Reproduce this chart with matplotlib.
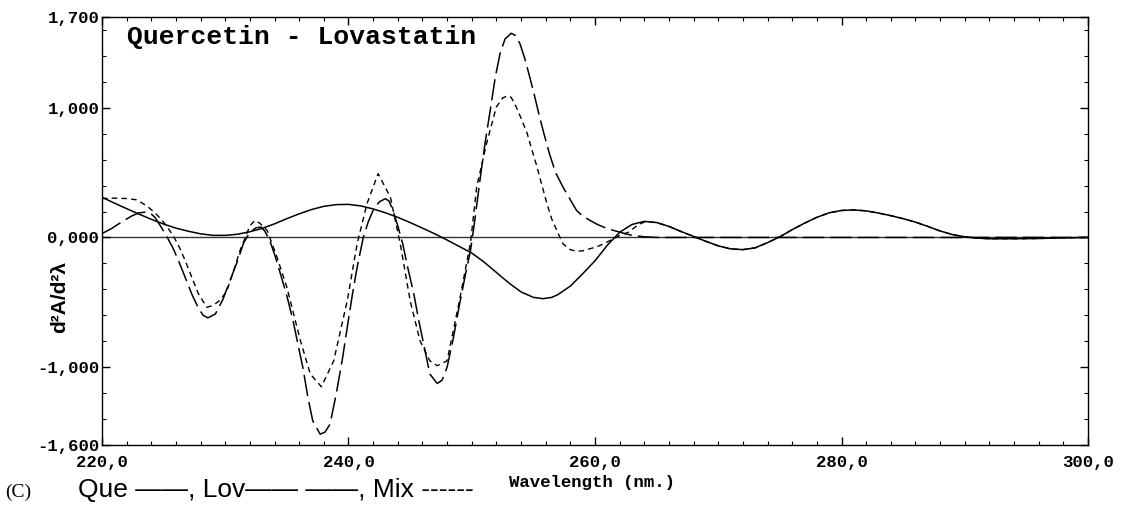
import matplotlib
matplotlib.use('Agg')
import matplotlib.pyplot as plt
from matplotlib.ticker import FixedLocator, MultipleLocator
import numpy as np

# Que (solid)
que_wl = [220, 221, 222, 223, 224, 225, 226, 227, 228, 229, 230, 231, 232, 233, 234,
          235, 236, 237, 238, 239, 240, 241, 242, 243, 244, 245, 246, 247, 248, 249,
          250, 251, 252, 253, 254, 255, 255.8, 256.5, 257, 258, 259, 260, 261, 262,
          263, 264, 265, 266, 267, 268, 269, 270, 271, 272, 273, 274, 275, 276, 277,
          278, 279, 280, 281, 282, 283, 284, 285, 286, 287, 288, 289, 290, 291, 292,
          294, 296, 298, 300]
que_val = [310, 265, 222, 180, 140, 103, 72, 48, 28, 16, 16, 25, 44, 70, 105,
           145, 182, 215, 240, 253, 255, 243, 220, 190, 155, 115, 72, 28, -20, -70,
           -120, -190, -270, -350, -420, -462, -472, -462, -440, -375, -280, -180, -60, 40,
           100, 124, 115, 85, 45, 8, -30, -65, -88, -94, -80, -40, 5, 60, 110,
           155, 190, 208, 212, 205, 188, 168, 145, 118, 85, 50, 22, 5, -5, -10,
           -10, -8, -3, 0]

# Lov (long dash)
lov_wl = [220, 220.8, 221.6, 222.4, 223.0, 223.5, 224.0, 224.3, 224.8, 225.3, 225.8,
          226.3, 226.8, 227.3, 227.8, 228.2, 228.6, 229.2, 229.8, 230.4, 231.0, 231.5,
          232.0, 232.5, 232.9, 233.2, 233.6, 234.0, 234.4, 235.0, 235.5, 236.0, 236.3,
          236.7, 237.1, 237.7, 238.1, 238.5, 239.0, 239.5, 239.9, 240.3, 240.7, 241.2,
          241.6, 242.0, 242.5, 243.0, 243.3, 243.6, 244.0, 244.4, 244.8, 245.3, 245.7,
          246.1, 246.6, 247.2, 247.6, 248.0, 248.5, 249.0, 249.5, 249.9, 250.2, 250.7,
          251.1, 251.5, 251.9, 252.3, 252.7, 253.2, 253.5, 253.9, 254.3, 254.7, 255.1,
          255.5, 255.9, 256.3, 256.8, 257.4, 258.0, 258.5, 259.0, 259.6, 260.2, 260.7,
          261.3, 262.0, 262.6, 263.1, 264, 265, 270, 280, 290, 300]
lov_val = [30, 70, 120, 165, 190, 195, 180, 155, 80, 0, -90,
           -200, -320, -440, -540, -600, -620, -590, -480, -330, -180, -40,
           40, 75, 80, 50, -20, -130, -255, -450, -641, -870, -1004,
           -1230, -1414, -1517, -1500, -1440, -1208, -940, -693, -450, -230, 0,
           120, 209, 275, 299, 280, 209, 90, -49, -230, -435, -640,
           -822, -1053, -1126, -1100, -1000, -780, -520, -280, -100, 100, 466,
           740, 981, 1230, 1420, 1530, 1574, 1560, 1497, 1380, 1239, 1090,
           930, 785, 647, 500, 389, 290, 209, 165, 131, 100, 80,
           60, 41, 25, 15, 5, 0, 0, 0, 0, 0]

# Mix (short dash)
mix_wl = [220, 221, 222, 222.8, 223.3, 223.8, 224.3, 224.8, 225.3, 225.8, 226.3, 226.8,
          227.3, 227.8, 228.5, 229.0, 229.5, 230.1, 230.7, 231.2, 231.5, 232.0, 232.4,
          232.8, 233.4, 234.2, 235.0, 236.1, 236.9, 237.8, 238.8, 239.9, 240.7, 241.5,
          242.4, 243.4, 244.2, 245.0, 245.8, 246.6, 247.2, 248.0, 249.0, 249.9, 250.4,
          251.2, 252.0, 252.5, 252.9, 253.2, 253.6, 254.0, 254.5, 254.9, 255.3, 255.7,
          256.1, 256.5, 256.9, 257.4, 258.0, 258.5, 259.0, 259.6, 260.2, 260.7, 261.3,
          262.0, 262.7, 263.4, 264, 265, 266, 267, 268, 269, 270, 271, 272, 273, 274,
          275, 276, 277, 278, 279, 280, 281, 282, 283, 284, 285, 286, 287, 288, 289,
          290, 291, 292, 294, 296, 298, 300]
mix_val = [300, 303, 300, 290, 263, 230, 190, 140, 80, 10, -80, -190,
           -310, -430, -538, -525, -490, -420, -250, -100, -30, 90, 131,
           110, 54, -152, -384, -796, -1053, -1151, -951, -487, -49, 260,
           492, 311, -49, -487, -796, -951, -989, -951, -487, -40, 389,
           724, 1007, 1075, 1092, 1080, 1007, 920, 801, 670, 543, 400,
           260, 140, 54, -49, -95, -106, -103, -87, -70, -49, -20,
           15, 40, 90, 120, 115, 85, 45, 8, -30, -65, -88, -94, -80, -40,
           5, 60, 110, 155, 190, 208, 212, 205, 188, 168, 145, 118, 85, 50, 22,
           5, -5, -10, -10, -8, -3, 0]

yticks = [-1600, -1000, 0, 1000, 1700]
ytick_labels = ['-1,600', '-1,000', '0,000', '1,000', '1,700']
xticks = [220, 240, 260, 280, 300]
xtick_labels = ['220,0', '240,0', '260,0', '280,0', '300,0']

mono = 'Liberation Mono'

fig = plt.figure(figsize=(11.27, 5.12), dpi=100)
ax = fig.add_axes([0.0905, 0.1309, 0.8749, 0.836])

ax.axhline(0, color='#333333', lw=1.0, zorder=1)
ax.plot(que_wl, que_val, color='black', lw=1.1, solid_capstyle='butt')
ax.plot(lov_wl, lov_val, color='black', lw=1.1, dashes=(14, 4))
ax.plot(mix_wl, mix_val, color='black', lw=1.0, dashes=(4, 3))

ax.set_xlim(220, 300)
ax.set_ylim(-1600, 1700)
ax.xaxis.set_major_locator(FixedLocator(xticks))
ax.xaxis.set_minor_locator(MultipleLocator(2))
ax.yaxis.set_major_locator(FixedLocator(yticks))
ax.yaxis.set_minor_locator(FixedLocator(np.arange(-1600, 1701, 200)))
ax.set_xticklabels(xtick_labels, fontfamily=mono, fontweight='bold', fontsize=12.5)
ax.set_yticklabels(ytick_labels, fontfamily=mono, fontweight='bold', fontsize=12.5)
ax.tick_params(which='both', direction='in', top=True, right=True, color='black')
ax.tick_params(which='major', length=6, width=1)
ax.tick_params(which='minor', length=3, width=0.8)
ax.tick_params(axis='x', which='major', pad=7)
ax.tick_params(axis='y', which='major', pad=2)
for s in ax.spines.values():
    s.set_linewidth(1.0)
    s.set_color('black')

ax.text(0.025, 0.953, 'Quercetin - Lovastatin', transform=ax.transAxes,
        fontfamily=mono, fontweight='bold', fontsize=19, va='center', ha='left')

fig.text(592 / 1127, 1 - 482 / 512, 'Wavelength (nm.)', fontfamily=mono,
         fontweight='bold', fontsize=12.5, ha='center', va='center')
fig.text(60 / 1127, 1 - 297 / 512, 'd\u00b2A/d\u00b2\u03bb', rotation=90,
         fontfamily='Liberation Sans', fontweight='bold', fontsize=15,
         ha='center', va='center')

fig.text(5 / 1127, 1 - 492 / 512, '(C)', fontfamily='Liberation Serif',
         fontsize=14, ha='left', va='center')
fig.text(78 / 1127, 1 - 490 / 512, 'Que \u2014\u2014, Lov\u2014\u2014 \u2014\u2014, Mix ------',
         fontfamily='Liberation Sans', fontsize=19, ha='left', va='center')

fig.savefig('out.png', dpi=100)
